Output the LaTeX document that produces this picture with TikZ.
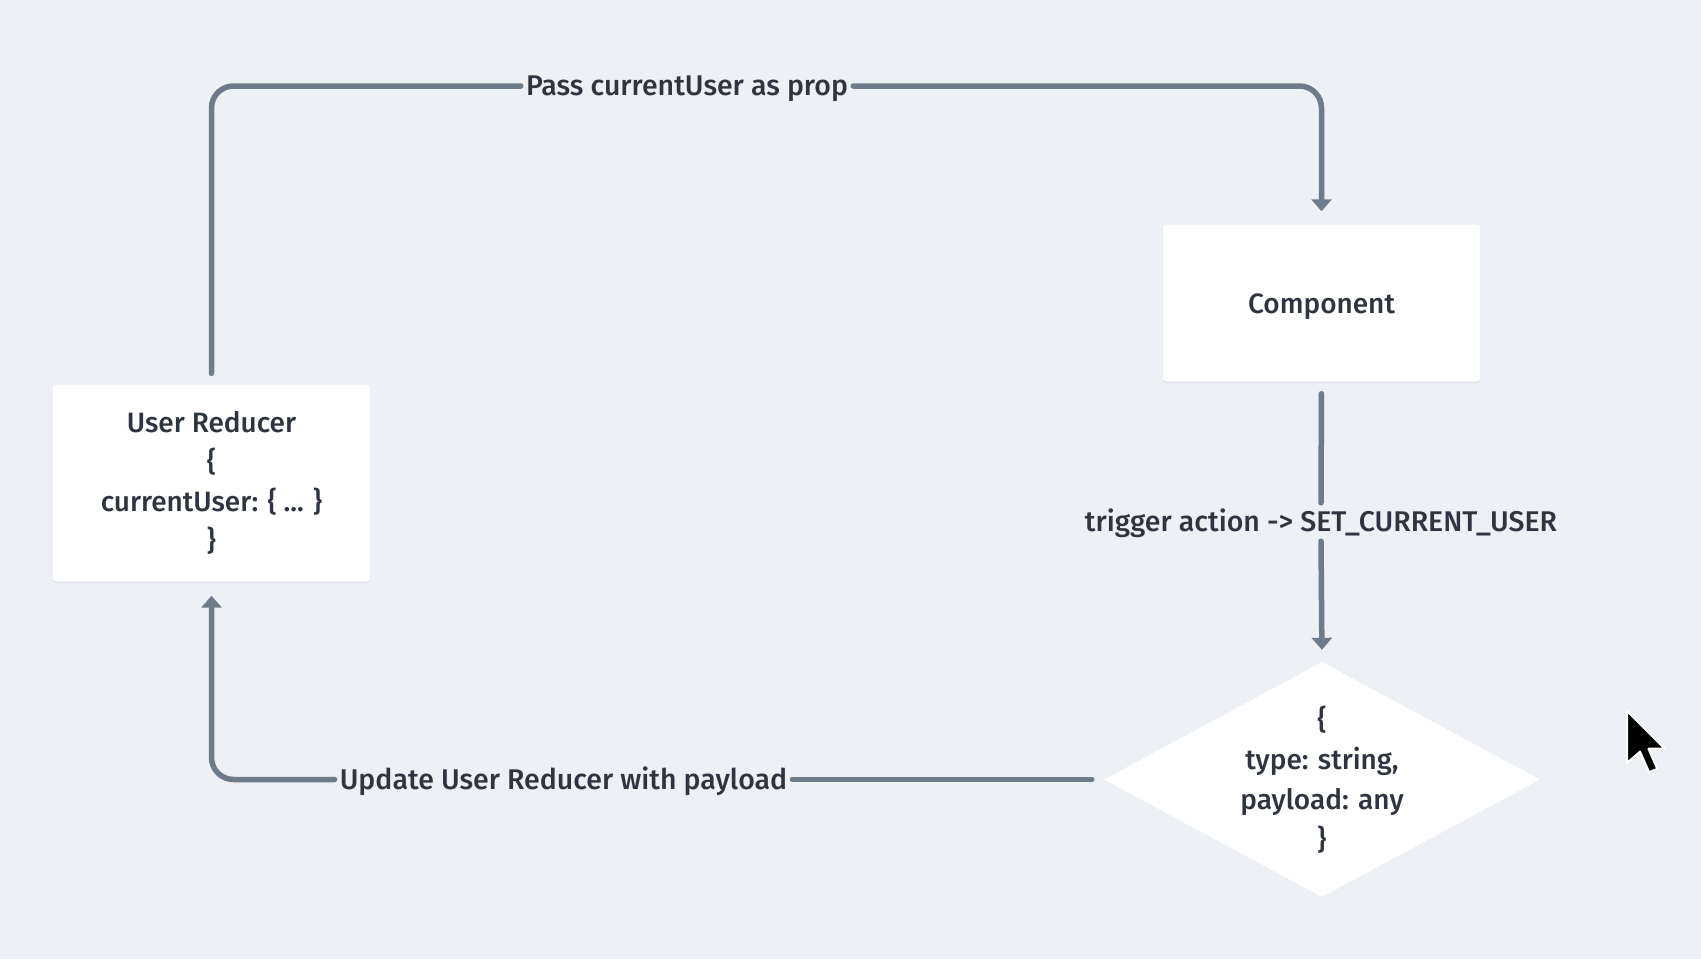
\documentclass[tikz,border=0pt]{standalone}
\usepackage{fontspec}
\setmainfont{Fira Sans Medium}
\usetikzlibrary{arrows.meta,shapes.geometric,shadows}
\definecolor{bg}{HTML}{EDF0F5}
\definecolor{ln}{HTML}{6E7B8B}
\definecolor{tx}{HTML}{2E3440}
\begin{document}
\begin{tikzpicture}[x=1pt,y=-1pt,
  box/.style={fill=white, rounded corners=3pt, inner sep=0pt, text=tx, align=center,
    font=\fontsize{28}{39.5}\selectfont,
    drop shadow={shadow xshift=0pt, shadow yshift=-1.5pt, opacity=0.06, fill=black}},
  dia/.style={diamond, fill=white, inner sep=0pt},
  diatext/.style={text=tx, align=center, inner sep=0pt, font=\fontsize{28}{40}\selectfont},
  flow/.style={draw=ln, line width=5.5pt, line cap=round, rounded corners=22pt},
  tip/.style={-{Triangle[width=20pt,length=12pt]}},
  lbl/.style={text=tx, inner sep=5pt, text height=21pt, text depth=2pt,
    font=\fontsize{28.5}{30}\selectfont}]
\fill[bg] (0,0) rectangle (1701,959);
\useasboundingbox (0,0) rectangle (1701,959);

\node[box, minimum width=317pt, minimum height=197pt] (ur) at (211.5,483)
  {User Reducer\\\{\\currentUser: \{ ... \}\\\}};
\node[box, minimum width=317pt, minimum height=157pt, text height=21pt, text depth=-4pt] (comp) at (1321.5,303) {Component};
\node[dia, minimum width=436pt, minimum height=235pt] (dm) at (1322,779.5) {};
\node[diatext] (dmt) at (dm.center) {\{\\type: string,\\payload: any\\\}};

\node[lbl] (l1) at (687,86) {Pass currentUser as prop};
\node[lbl, minimum height=38pt] (l2) at (1321,522) {trigger action -> SET\_CURRENT\_USER};
\node[lbl] (l3) at (563.5,779.5) {Update User Reducer with payload};

\draw[flow, shorten <=11pt] (ur.north) |- (l1.west);
\draw[flow, tip, shorten >=13pt] (l1.east) -| (comp.north);
\draw[flow, shorten <=12pt] (comp.south) -- (l2.north);
\draw[flow, tip, shorten >=12pt] (l2.south) -- (dm.north);
\draw[flow, shorten <=12pt] (dm.west) -- (l3.east);
\draw[flow, tip, shorten >=14pt] (l3.west) -| (ur.south);

\begin{scope}[shift={(1627,711)}, x=3.25pt, y=-3.25pt]
  \fill[black!10, opacity=0.5] (0.4,0.6) -- (0.4,16.6) -- (4.4,13.1) -- (7.2,19.4) -- (9.7,18.4) -- (7,12.2) -- (12,12.2) -- cycle;
  \draw[white, line width=2pt, fill=black, line join=round]
    (0,0) -- (0,16) -- (4,12.5) -- (6.8,18.8) -- (9.3,17.8) -- (6.6,11.6) -- (11.6,11.6) -- cycle;
\end{scope}
\end{tikzpicture}
\end{document}
